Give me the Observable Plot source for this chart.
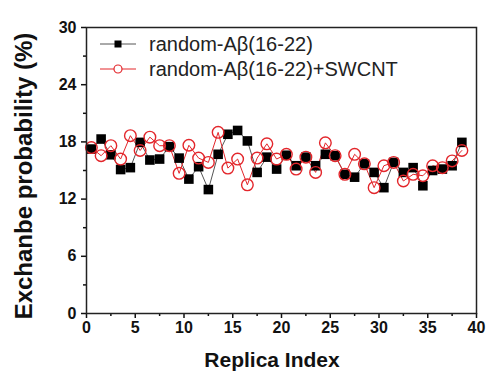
<!DOCTYPE html>
<html>
<head>
<meta charset="utf-8">
<script src="https://cdn.jsdelivr.net/npm/d3@7"></script>
<script src="https://cdn.jsdelivr.net/npm/@observablehq/plot@0.6"></script>
<style>
  html, body { margin: 0; padding: 0; background: #fff; }
  #chart svg { display: block; }
</style>
</head>
<body>
<div id="chart"></div>
<script>
// Replica positions (as plotted)
const replica = [0.5, 1.5, 2.5, 3.5, 4.5, 5.5, 6.5, 7.5, 8.5, 9.5,
                 10.5, 11.5, 12.5, 13.5, 14.5, 15.5, 16.5, 17.5, 18.5, 19.5,
                 20.5, 21.5, 22.5, 23.5, 24.5, 25.5, 26.5, 27.5, 28.5, 29.5,
                 30.5, 31.5, 32.5, 33.5, 34.5, 35.5, 36.5, 37.5, 38.5];
// random-Aβ(16-22)
const seriesA = [17.25, 18.3, 16.65, 15.1, 15.3, 17.95, 16.1, 16.2, 17.5, 16.3,
                 14.1, 15.4, 13.0, 16.7, 18.8, 19.2, 18.1, 14.8, 16.4, 15.15,
                 16.6, 15.5, 16.4, 15.5, 16.7, 16.55, 14.6, 14.3, 15.7, 14.8,
                 13.2, 15.85, 14.8, 15.3, 13.4, 15.0, 15.15, 15.5, 17.95];
// random-Aβ(16-22)+SWCNT
const seriesB = [17.4, 16.55, 17.6, 16.2, 18.65, 17.1, 18.5, 17.6, 17.6, 14.7,
                 17.65, 16.3, 15.85, 19.0, 15.25, 16.2, 13.5, 16.3, 17.8, 16.2,
                 16.7, 15.15, 16.4, 14.8, 17.9, 16.55, 14.6, 16.7, 15.7, 13.2,
                 15.5, 15.85, 13.9, 14.6, 14.45, 15.5, 15.3, 16.0, 17.1];
const seriesNames = ["random-Aβ(16-22)", "random-Aβ(16-22)+SWCNT"];
const xTicks = [0, 5, 10, 15, 20, 25, 30, 35, 40];
const xMinor = [2.5, 7.5, 12.5, 17.5, 22.5, 27.5, 32.5, 37.5];
const yTicks = [0, 6, 12, 18, 24, 30];
const yMinor = [3, 9, 15, 21, 27];
const xTitle = "Replica Index";
const yTitle = "Exchanbe probability (%)";

const dataA = replica.map((x, i) => ({x, y: seriesA[i]}));
const dataB = replica.map((x, i) => ({x, y: seriesB[i]}));

const RED = "#e3262b";
const font = "'Liberation Sans', Arial, sans-serif";

const chart = Plot.plot({
  width: 487,
  height: 374,
  marginLeft: 86,
  marginRight: 11,
  marginTop: 27,
  marginBottom: 61,
  x: {domain: [0, 40]},
  y: {domain: [0, 30]},
  style: {fontFamily: font, background: "#fff", color: "#111"},
  marks: [
    Plot.axisX(xTicks, {tickSize: 5, tickPadding: 3, fontSize: 16, fontWeight: "bold", label: null, strokeWidth: 1.5}),
    Plot.axisX(xMinor, {tickSize: 3, tickFormat: () => "", label: null, strokeWidth: 1.5}),
    Plot.axisY(yTicks, {tickSize: 5, tickPadding: 5, fontSize: 16, fontWeight: "bold", label: null, strokeWidth: 1.5}),
    Plot.axisY(yMinor, {tickSize: 3, tickFormat: () => "", label: null, strokeWidth: 1.5}),
    Plot.line(dataA, {x: "x", y: "y", stroke: "#555", strokeWidth: 1}),
    Plot.line(dataB, {x: "x", y: "y", stroke: RED, strokeWidth: 1}),
    Plot.dot(dataA, {x: "x", y: "y", symbol: "square", r: 5.4, fill: "#000", stroke: "none"}),
    Plot.dot(dataB, {x: "x", y: "y", symbol: "circle", r: 5.8, fill: "none", stroke: RED, strokeWidth: 1.4}),
    Plot.frame({stroke: "#222", strokeWidth: 1.5})
  ]
});

document.getElementById("chart").appendChild(chart);

const svg = d3.select(chart);
// Axis titles
svg.append("text")
  .attr("x", 272).attr("y", 367)
  .attr("text-anchor", "middle")
  .attr("font-family", font).attr("font-weight", "bold").attr("font-size", 21)
  .attr("fill", "#111")
  .text(xTitle);
svg.append("text")
  .attr("transform", "translate(32,176) rotate(-90)")
  .attr("text-anchor", "middle")
  .attr("font-family", font).attr("font-weight", "bold").attr("font-size", 24)
  .attr("fill", "#111")
  .text(yTitle);

// Legend
const leg = svg.append("g");
const rows = [
  {y: 44, stroke: "#555", name: seriesNames[0], sym: "square"},
  {y: 69, stroke: RED, name: seriesNames[1], sym: "circle"}
];
rows.forEach(r => {
  leg.append("line").attr("x1", 100).attr("x2", 136).attr("y1", r.y).attr("y2", r.y)
    .attr("stroke", r.stroke).attr("stroke-width", 1);
  if (r.sym === "square") {
    leg.append("rect").attr("x", 114.5).attr("y", r.y - 3.5).attr("width", 7).attr("height", 7).attr("fill", "#000");
  } else {
    leg.append("circle").attr("cx", 118).attr("cy", r.y).attr("r", 4)
      .attr("fill", "#fff").attr("stroke", RED).attr("stroke-width", 1.2);
  }
  leg.append("text").attr("x", 149).attr("y", r.y + 7)
    .attr("text-anchor", "start")
    .attr("font-family", font).attr("font-size", 20).attr("fill", "#222")
    .text(r.name);
});
</script>
</body>
</html>
